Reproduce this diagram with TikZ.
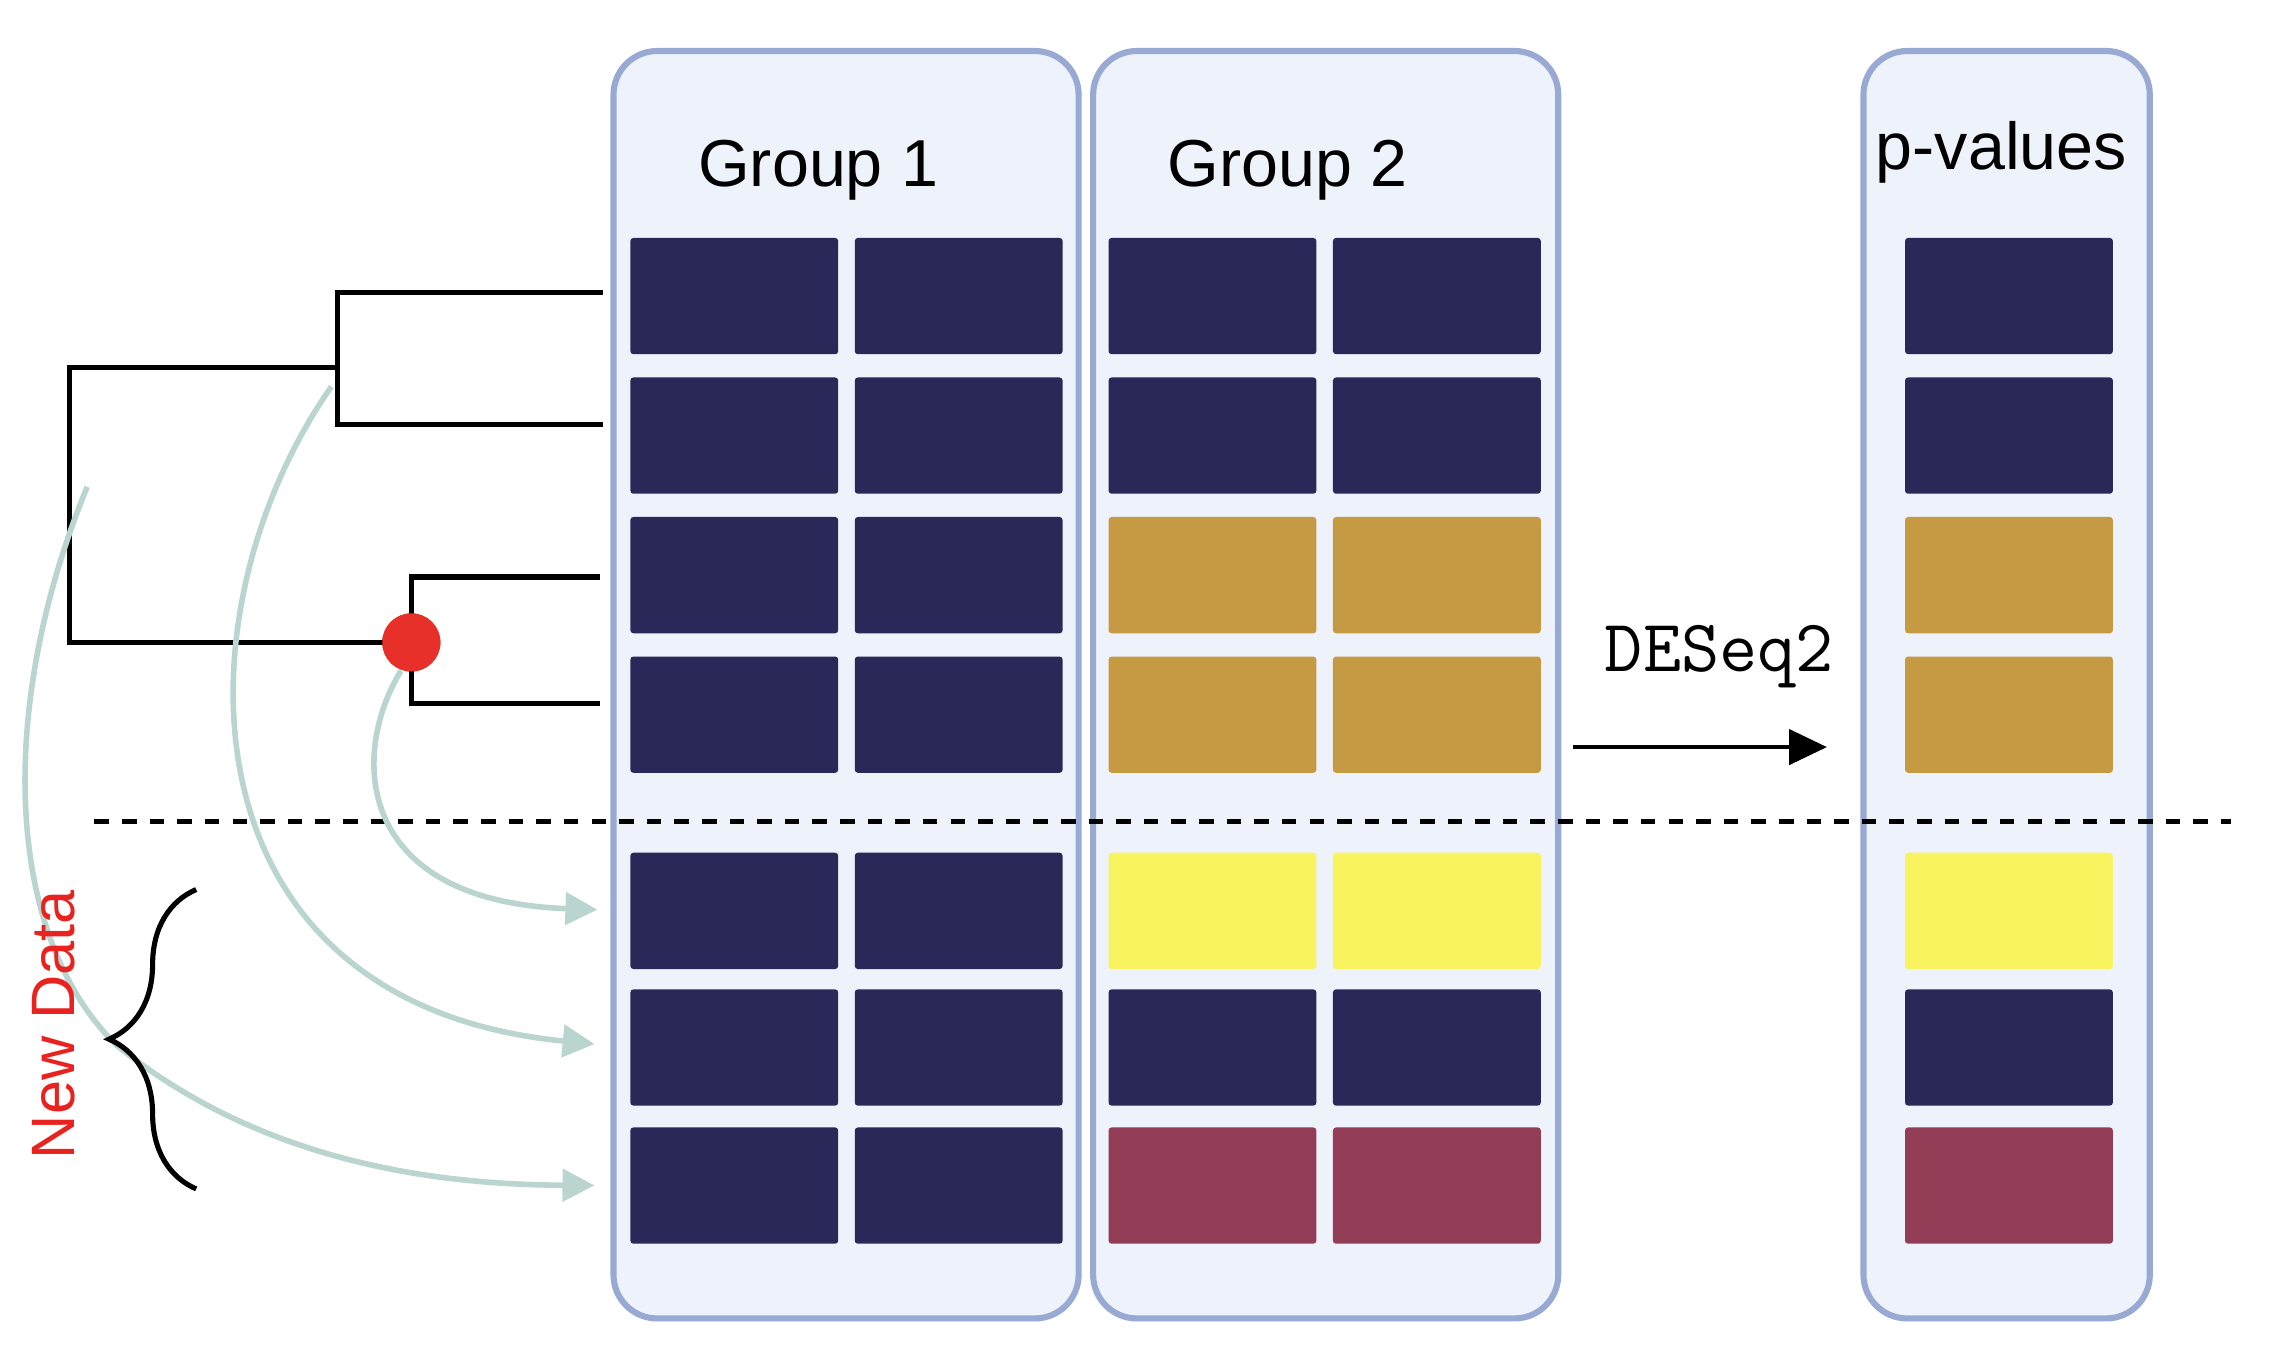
\documentclass[tikz,border=0pt]{standalone}
\usepackage{tikz}
\usepackage{fontspec}
\setmainfont{Liberation Sans}
\usetikzlibrary{positioning,arrows.meta,decorations.pathreplacing}
\definecolor{cellnavy}{HTML}{2A2859}
\definecolor{cellgold}{HTML}{C69A42}
\definecolor{cellyellow}{HTML}{F8F35E}
\definecolor{cellred}{HTML}{933C55}
\definecolor{panelfill}{HTML}{EEF2FA}
\definecolor{panelline}{HTML}{98AAD3}
\definecolor{linkteal}{HTML}{BAD5D0}
\definecolor{dotred}{HTML}{E8302A}
\definecolor{datared}{HTML}{E8231F}
\tikzstyle{panel} = [
rectangle,
rounded corners=0.3cm,
anchor=north west,
minimum height=8.72cm,
draw=panelline,
line width=1.2pt,
fill=panelfill
]
\tikzstyle{cell} = [
rectangle,
rounded corners=0.6pt,
anchor=north west,
minimum width=1.43cm,
minimum height=0.8cm,
inner sep=0pt
]
\tikzstyle{title} = [
font=\fontsize{13}{15}\selectfont
]
\tikzstyle{tree} = [
line width=1pt
]
\tikzstyle{link} = [
line width=1.1pt,
draw=linkteal,
-{Triangle[length=0.22cm,width=0.22cm]}
]
\tikzstyle{arrow} = [
line width=0.9pt,
-{Triangle[length=0.26cm,width=0.24cm]}
]

\begin{document}
\begin{tikzpicture}[x=0.1mm,y=-0.1mm]
	\useasboundingbox (0,0) rectangle (1568,943);
	%Panels
	\node[panel,minimum width=3.2cm] (g1) at (420,33) {};
	\node[panel,minimum width=3.2cm] (g2) at (750,33) {};
	\node[panel,minimum width=1.97cm] (pv) at (1280,33) {};
	\node[title] (g1title) at (563,117) {Group 1};
	\node[title] (g2title) at (886,117) {Group 2};
	\node[title] (pvtitle) at (1377,105) {p-values};
	%Split
	\coordinate (cutl) at (65,565);
	\coordinate (cutr) at (1535,565);
	\draw[line width=1pt,dash pattern=on 0.1cm off 0.09cm] (cutl) -- (cutr);
	%Cells
	\foreach \r/\y/\cl in {1/163/cellnavy,2/259/cellnavy,3/355/cellgold,4/451/cellgold,5/586/cellyellow,6/680/cellnavy,7/775/cellred}{
		\node[cell,fill=cellnavy] (a\r) at (433,\y) {};
		\node[cell,fill=cellnavy,right=0.1cm of a\r] (b\r) {};
		\node[cell,fill=\cl] (c\r) at (762,\y) {};
		\node[cell,fill=\cl,right=0.1cm of c\r] (d\r) {};
		\node[cell,fill=\cl] (p\r) at (1310,\y) {};
	}
	%Tree
	\coordinate (leaf1) at (415,201);
	\coordinate (leaf2) at (415,292);
	\coordinate (leaf3) at (413,397);
	\coordinate (leaf4) at (413,484);
	\coordinate (split1) at (232,253);
	\coordinate (root) at (48,350);
	\node[circle,fill=dotred,minimum size=0.4cm,inner sep=0pt] (dot) at (283,442) {};
	\draw[tree] (leaf1) -| (split1) |- (leaf2);
	\draw[tree] (split1) -| (root) |- (dot.center);
	\draw[tree] (leaf3) -| (dot.center) |- (leaf4);
	\node[circle,fill=dotred,minimum size=0.4cm,inner sep=0pt] at (dot) {};
	%Links
	\coordinate (from2) at (228,266);
	\coordinate (from3) at (60,335);
	\coordinate (via3) at (80,719);
	\draw[link,shorten >=0.22cm] (dot.250) .. controls (240,520) and (245,620) .. (a5.west);
	\draw[link,shorten >=0.24cm] (from2) .. controls (120,420) and (120,690) .. (a6.west);
	\draw[link,shorten >=0.24cm] (from3) .. controls (0,480) and (0,640) .. (via3) .. controls (180,800) and (300,815) .. (a7.west);
	%Brace
	\coordinate (bracebot) at (135,818);
	\coordinate (bracetop) at (135,612);
	\draw[line width=1pt,decorate,decoration={brace,amplitude=0.6cm}] (bracebot) -- (bracetop);
	\node[title,rotate=90,text=datared,font=\fontsize{12}{14}\selectfont] (newdata) at (37,705) {New Data};
	%DESeq2
	\node[font=\ttfamily\fontsize{14.5}{16}\selectfont] (deseq) at (1183,452) {DESeq2};
	\coordinate (runin) at (1082,514);
	\coordinate (runout) at (1257,514);
	\draw[arrow] (runin) -- (runout);
\end{tikzpicture}
\end{document}
